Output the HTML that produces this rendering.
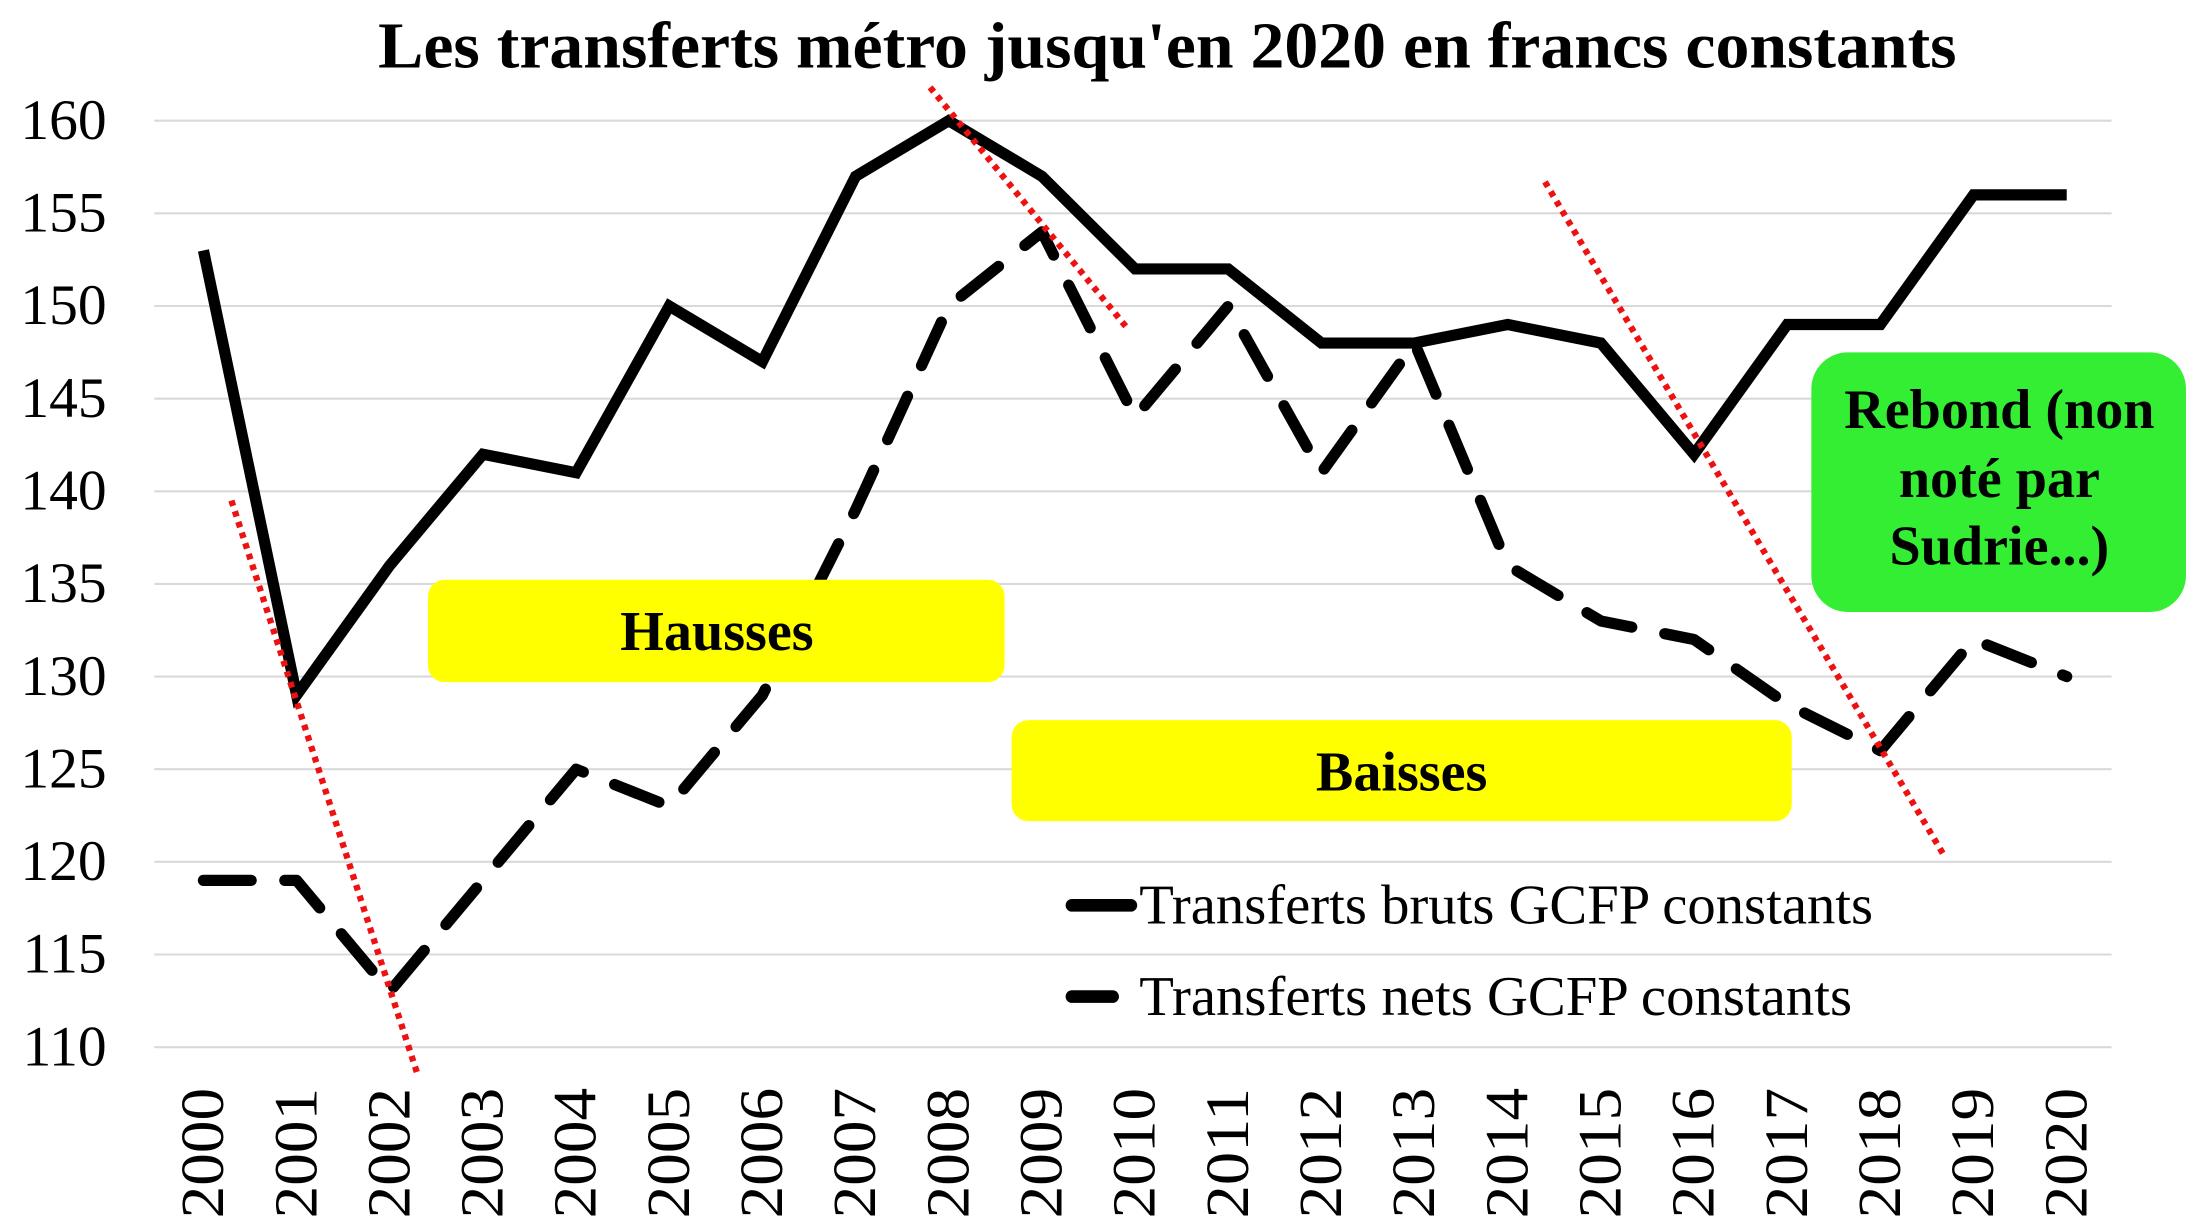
<!DOCTYPE html>
<html><head><meta charset="utf-8"><style>
html,body{margin:0;padding:0;background:#fff;}
svg{display:block;}
text{font-family:"Liberation Serif",serif;}
</style></head><body>
<svg id="chart" width="2200" height="1224" viewBox="0 0 1568 872" preserveAspectRatio="none" xmlns="http://www.w3.org/2000/svg">
<text x="832" y="48" text-anchor="middle" font-size="47" font-weight="bold" textLength="1125" lengthAdjust="spacingAndGlyphs">Les transferts métro jusqu'en 2020 en francs constants</text>
<g id="grid"></g>
<g id="yaxis"></g>
<g id="xaxis"></g>
<g id="series"></g>
<rect x="305" y="413" width="411" height="73" rx="12" fill="#ffff00"/>
<text x="511" y="463" text-anchor="middle" font-size="40" font-weight="bold">Hausses</text>
<rect x="721" y="513" width="556" height="72" rx="12" fill="#ffff00"/>
<text x="999" y="563" text-anchor="middle" font-size="40" font-weight="bold">Baisses</text>
<g id="trend"></g>
<rect x="1291" y="251" width="267" height="185" rx="26" fill="#33ee33"/>
<text font-size="40" font-weight="bold" text-anchor="middle"><tspan x="1425" y="305">Rebond (non</tspan><tspan x="1425" y="354">noté par</tspan><tspan x="1425" y="402">Sudrie...)</tspan></text>
<g>
<line x1="764" y1="645" x2="806" y2="645" stroke="#000" stroke-width="9" stroke-linecap="round"/>
<text x="812" y="658" font-size="40" textLength="523" lengthAdjust="spacingAndGlyphs">Transferts bruts GCFP constants</text>
<line x1="764" y1="710" x2="793" y2="710" stroke="#000" stroke-width="9" stroke-linecap="round"/>
<text x="812" y="723" font-size="40" textLength="508" lengthAdjust="spacingAndGlyphs">Transferts nets GCFP constants</text>
</g>
</svg>
<script>
const years=["2000","2001","2002","2003","2004","2005","2006","2007","2008","2009","2010","2011","2012","2013","2014","2015","2016","2017","2018","2019","2020"];
const brutsValues=[153,129,136,142,141,150,147,157,160,157,152,152,148,148,149,148,142,149,149,156,156];
const netsValues=[119,119,113,119,125,123,129,139,150,154,144,150,141,148,136,133,132,128.5,126,132,130];
const yTicks=[110,115,120,125,130,135,140,145,150,155,160];
const trendLines=[[0.3,139.5,2.3,108.5],[7.8,161.8,9.9,148.9],[14.4,156.7,18.7,120.2]];
const NS="http://www.w3.org/2000/svg";
const x=i=>145+i*66.4;
const y=v=>86+(160-v)*13.2;
function mk(t,a,p){const e=document.createElementNS(NS,t);for(const k in a)e.setAttribute(k,a[k]);p.appendChild(e);return e;}
const grid=document.getElementById('grid'),ya=document.getElementById('yaxis'),xa=document.getElementById('xaxis');
yTicks.forEach(v=>{
 const l=mk('line',{x1:110,x2:1505,y1:y(v),y2:y(v),stroke:'#d9d9d9','stroke-width':1.5},grid);
 
 
 const t=mk('text',{x:76,y:y(v)+13,'text-anchor':'end','font-size':41},ya);
 t.textContent=v;
 
 
});
years.forEach((yr,i)=>{
 const t=mk('text',{transform:`translate(${x(i)+14},868) rotate(-90)`,'font-size':44,textLength:93,lengthAdjust:'spacingAndGlyphs'},xa);
 t.textContent=yr;
 
 
});
const s=document.getElementById('series');
const pts=a=>a.map((v,i)=>x(i)+','+y(v)).join(' ');
const p2=mk('polyline',{points:pts(netsValues),fill:'none',stroke:'#000','stroke-width':8,'stroke-linecap':'round','stroke-linejoin':'round','stroke-dasharray':'34 24'},s);


const p1=mk('polyline',{points:pts(brutsValues),fill:'none',stroke:'#000','stroke-width':8,'stroke-linejoin':'miter'},s);


const tr=document.getElementById('trend');
trendLines.forEach((d,k)=>{
 const l=mk('line',{x1:x(d[0]),y1:y(d[1]),x2:x(d[2]),y2:y(d[3]),stroke:'#ee1111','stroke-width':4.5,'stroke-dasharray':'4 4'},tr);
 
 
});
</script>
</body></html>
